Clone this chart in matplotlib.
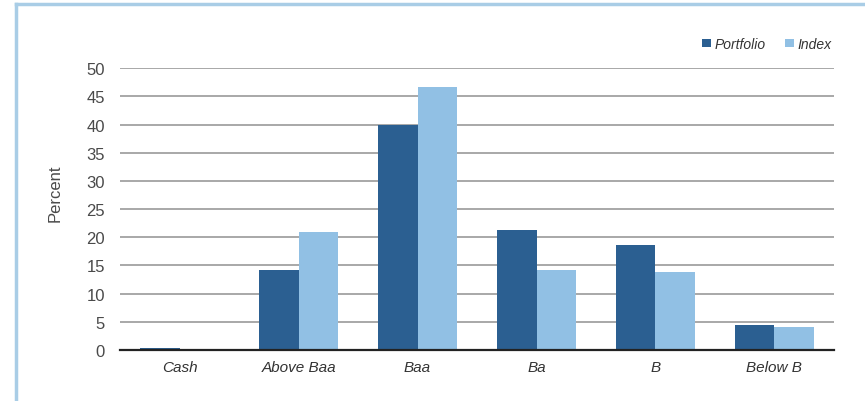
import numpy as np
import matplotlib
matplotlib.use("Agg")
import matplotlib.pyplot as plt
from matplotlib.lines import Line2D

categories = ["Cash", "Above Baa", "Baa", "Ba", "B", "Below B"]
portfolio = [0.4, 14.2, 40.0, 21.2, 18.7, 4.5]
index = [0.0, 21.0, 46.7, 14.2, 13.8, 4.0]
yticks = [0, 5, 10, 15, 20, 25, 30, 35, 40, 45, 50]

plt.rcParams["font.family"] = ["Liberation Sans", "DejaVu Sans"]

dark = "#2b5f91"
light = "#91c0e4"
grey = "#4a4a4a"

fig = plt.figure(figsize=(8.65, 4.02), dpi=100)
ax = fig.add_axes([0.139, 0.127, 0.825, 0.701])

x = np.arange(len(categories))
w = 0.335
ax.bar(x - w / 2, portfolio, w, color=dark, label="Portfolio", zorder=3)
ax.bar(x + w / 2, index, w, color=light, label="Index", zorder=3)

ax.set_xlim(-0.5, len(categories) - 0.5)
ax.set_ylim(0, 50)
ax.set_yticks(yticks)
ax.yaxis.grid(True, color="#a8a8a8", linewidth=1.4, zorder=0)
ax.tick_params(axis="y", length=0, pad=11, labelsize=12, labelcolor=grey)
ax.tick_params(axis="x", length=0, pad=7, labelsize=11, labelcolor="#333333")
ax.set_xticks(x)
ax.set_xticklabels(categories, style="italic")
for s in ["top", "right", "left"]:
    ax.spines[s].set_visible(False)
ax.spines["bottom"].set_color("#222222")
ax.spines["bottom"].set_linewidth(1.6)
ax.spines["bottom"].set_zorder(4)

fig.text(0.064, 0.52, "Percent", rotation=90, ha="center", va="center",
         fontsize=12, color=grey)

leg = ax.legend(loc="upper right", bbox_to_anchor=(1.015, 1.155), ncol=2,
                frameon=False, handlelength=0.6, handleheight=0.6,
                handletextpad=0.3, columnspacing=1.4, fontsize=10)
for t in leg.get_texts():
    t.set_style("italic")
    t.set_color("#333333")

# light blue frame, only the left and top edges show
frame = "#a9cde6"
fig.add_artist(Line2D([0.018, 0.018], [0.0, 0.988], transform=fig.transFigure,
                      color=frame, linewidth=2.5))
fig.add_artist(Line2D([0.018, 1.0], [0.988, 0.988], transform=fig.transFigure,
                      color=frame, linewidth=2.5))

fig.savefig("out.png", dpi=100)
